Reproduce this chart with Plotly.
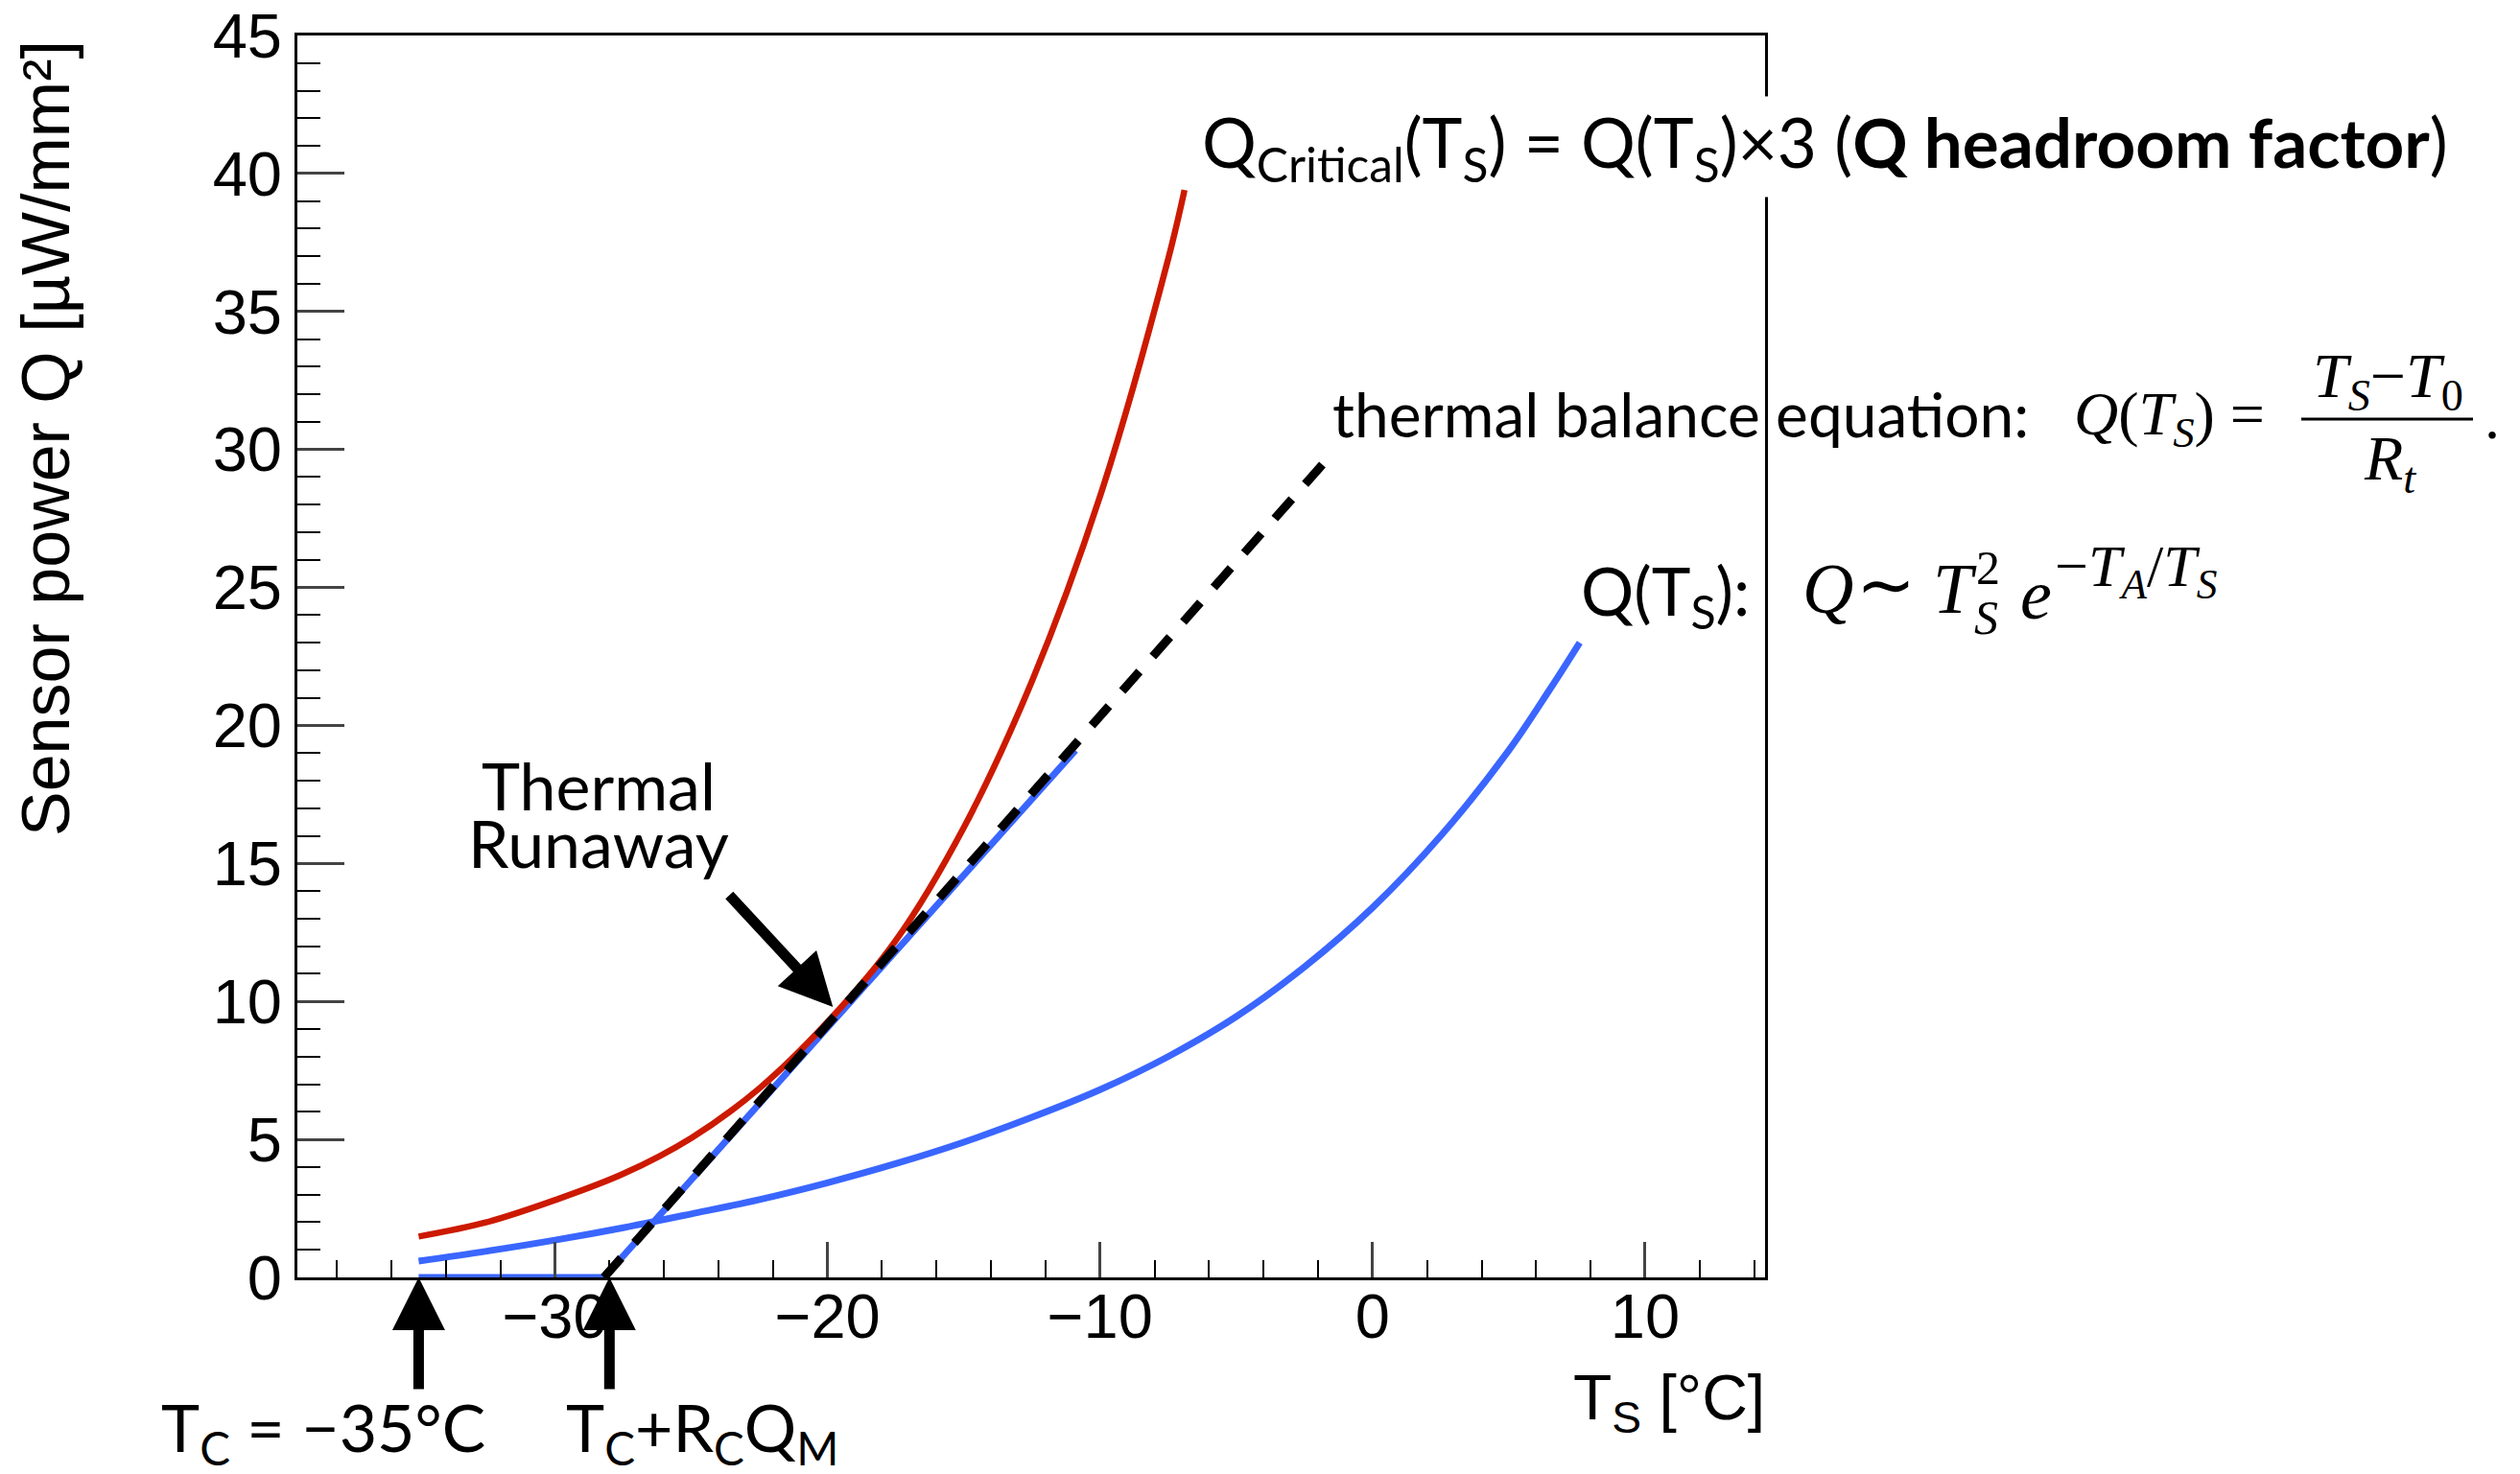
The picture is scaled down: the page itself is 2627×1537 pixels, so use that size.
import plotly.graph_objects as go

# ---------------- data ----------------
# Q(T_S) curve (blue)
q_T = [-35, -32.5, -30, -27.5, -25, -22.5, -20, -17.5, -15, -12.5, -10, -7.5, -5, -2.5, 0, 2.5, 5, 6.5, 7.6]
q_Q = [0.59, 0.95, 1.35, 1.80, 2.30, 2.82, 3.43, 4.12, 4.90, 5.80, 6.80, 8.00, 9.45, 11.25, 13.40, 16.00, 19.10, 21.30, 23.00]

# Q_Critical(T_S) curve (red)
crit_T = [-35, -32.5, -30, -27.5, -25, -22.5, -20, -17.5, -15, -12.5, -10, -7.5, -6.9]
crit_Q = [1.48, 2.00, 2.80, 3.75, 5.05, 6.85, 9.25, 12.20, 16.30, 21.60, 28.30, 36.90, 39.40]

# operating path (blue): flat at T_C then along the balance line
eq_T = [-35, -28.2, -10.9]
eq_Q = [0, 0, 19.1]

# thermal balance line (black dashed)
bal_T = [-28.2, -1.8]
bal_Q = [0, 29.5]

# arrow markers
tc_T = -35.0
tcm_T = -28.0
runaway_tip = (-19.8, 9.8)
runaway_tail = (-23.65, 13.9)

x_range = [-39.45, 14.4]
y_range = [0, 45]

# ---------------- layout helpers ----------------
W, H = 2627, 1537
L, R, T, B = 310, 1840, 37, 1332


def px(x):
    return (x - L) / (R - L)


def py(y):
    return (B - y) / (B - T)


BLUE = "#3a66ff"
RED = "#cc1a00"
SANS = "Lato"
AXF = "Liberation Sans"
SERIF = "Liberation Serif"

fig = go.Figure()
fig.add_trace(go.Scatter(x=q_T, y=q_Q, mode="lines", line=dict(color=BLUE, width=7, shape="spline"),
                         showlegend=False, hoverinfo="skip"))
fig.add_trace(go.Scatter(x=eq_T, y=eq_Q, mode="lines", line=dict(color=BLUE, width=7),
                         showlegend=False, hoverinfo="skip", cliponaxis=False))
fig.add_trace(go.Scatter(x=crit_T, y=crit_Q, mode="lines", line=dict(color=RED, width=6.5, shape="spline"),
                         showlegend=False, hoverinfo="skip"))
fig.add_trace(go.Scatter(x=bal_T, y=bal_Q, mode="lines", line=dict(color="black", width=9, dash="27px,21px"),
                         showlegend=False, hoverinfo="skip"))


def txt(text, x, y, size=66, font=SANS, xanchor="left", yanchor="middle", **kw):
    return dict(text=text, x=px(x), y=py(y), xref="paper", yref="paper", showarrow=False,
                xanchor=xanchor, yanchor=yanchor, font=dict(family=font, size=size, color="black"), **kw)


ann = []
# Q critical label (white box covers the frame)
ann.append(txt("Q<sub>Critical</sub>(T<sub>S</sub>) = Q(T<sub>S</sub>)×3 (<b>Q headroom factor</b>)",
               1248, 153, size=71, bgcolor="white", borderpad=4))
# thermal balance
ann.append(txt("thermal balance equation:", 1387, 432, size=64))
ann.append(txt("<i>Q</i>(<i>T</i><sub><i>S</i></sub>) =", 2160, 436, size=64, font=SERIF))
ann.append(txt("<i>T</i><sub><i>S</i></sub>−<i>T</i><sub>0</sub>", 2489, 396, size=66, font=SERIF, xanchor="center"))
ann.append(txt("<i>R</i><sub><i>t</i></sub>", 2491, 482, size=66, font=SERIF, xanchor="center"))
ann.append(txt(".", 2588, 436, size=64, font=SERIF))
# Q(T_S) law
ann.append(txt("Q(T<sub>S</sub>):", 1826, 620, size=69, xanchor="right"))
ann.append(txt("<i>Q</i>", 1877, 614, size=74, font=SERIF))
ann.append(txt("∼", 1933, 610, size=74, font=SERIF))
ann.append(txt("<i>T</i>", 2013, 614, size=74, font=SERIF))
ann.append(txt("2", 2058, 592, size=50, font=SERIF))
ann.append(txt("<i>S</i>", 2056, 644, size=50, font=SERIF))
ann.append(txt("<i>e</i>", 2104, 620, size=74, font=SERIF))
ann.append(txt("−<i>T</i><sub><i>A</i></sub>/<i>T</i><sub><i>S</i></sub>", 2140, 594, size=62, font=SERIF))
# thermal runaway label
ann.append(txt("Thermal", 624, 818, size=68, xanchor="center"))
ann.append(txt("Runaway", 624, 878, size=68, xanchor="center"))
# bottom labels
ann.append(txt("T<sub>C</sub> = −35°C", 166, 1492, size=68))
ann.append(txt("T<sub>C</sub>+R<sub>C</sub>Q<sub>M</sub>", 588, 1492, size=68))
# axis titles
ann.append(txt("T<sub>S</sub> [°C]", 1842, 1462, size=66, font=AXF, xanchor="right"))
ann.append(dict(text="Sensor power Q [µW/mm²]", x=px(48), y=py(40), xref="paper", yref="paper",
                showarrow=False, textangle=-90, xanchor="center", yanchor="top",
                font=dict(family=AXF, size=70, color="black")))

# arrows
ann.append(dict(text="", x=runaway_tip[0], y=runaway_tip[1], xref="x", yref="y",
                ax=runaway_tail[0], ay=runaway_tail[1], axref="x", ayref="y",
                showarrow=True, arrowhead=2, arrowsize=1.0, arrowwidth=11, arrowcolor="black", standoff=0))
for xt in (tc_T, tcm_T):
    ann.append(dict(text="", x=xt, y=0, xref="x", yref="y", ax=0, ay=118,
                    showarrow=True, arrowhead=2, arrowsize=1.0, arrowwidth=11, arrowcolor="black", standoff=0))

shapes = [dict(type="line", xref="paper", yref="paper", x0=px(2399), x1=px(2578), y0=py(437), y1=py(437),
               line=dict(color="black", width=3))]

fig.update_layout(
    width=W, height=H, autosize=False,
    margin=dict(l=L, r=W - R, t=T, b=H - B, pad=0),
    paper_bgcolor="white", plot_bgcolor="white",
    annotations=ann, shapes=shapes,
    xaxis=dict(range=x_range, tick0=0, dtick=10, ticks="inside", ticklen=37, tickwidth=2.5,
               showline=True, linewidth=3, linecolor="black", mirror=True, automargin=False,
               showgrid=False, zeroline=False, ticklabelstandoff=-18,
               tickfont=dict(family=AXF, size=65, color="black"),
               minor=dict(tick0=0, dtick=2, ticks="inside", ticklen=18, tickwidth=2, tickcolor="black", showgrid=False)),
    yaxis=dict(range=y_range, tick0=0, dtick=5, ticks="inside", ticklen=49, tickwidth=2.5,
               showline=True, linewidth=3, linecolor="black", mirror=True, automargin=False,
               showgrid=False, zeroline=False,
               tickfont=dict(family=AXF, size=65, color="black"),
               minor=dict(tick0=0, dtick=1, ticks="inside", ticklen=24, tickwidth=2, tickcolor="black", showgrid=False)),
)

fig.write_html("out.html")
